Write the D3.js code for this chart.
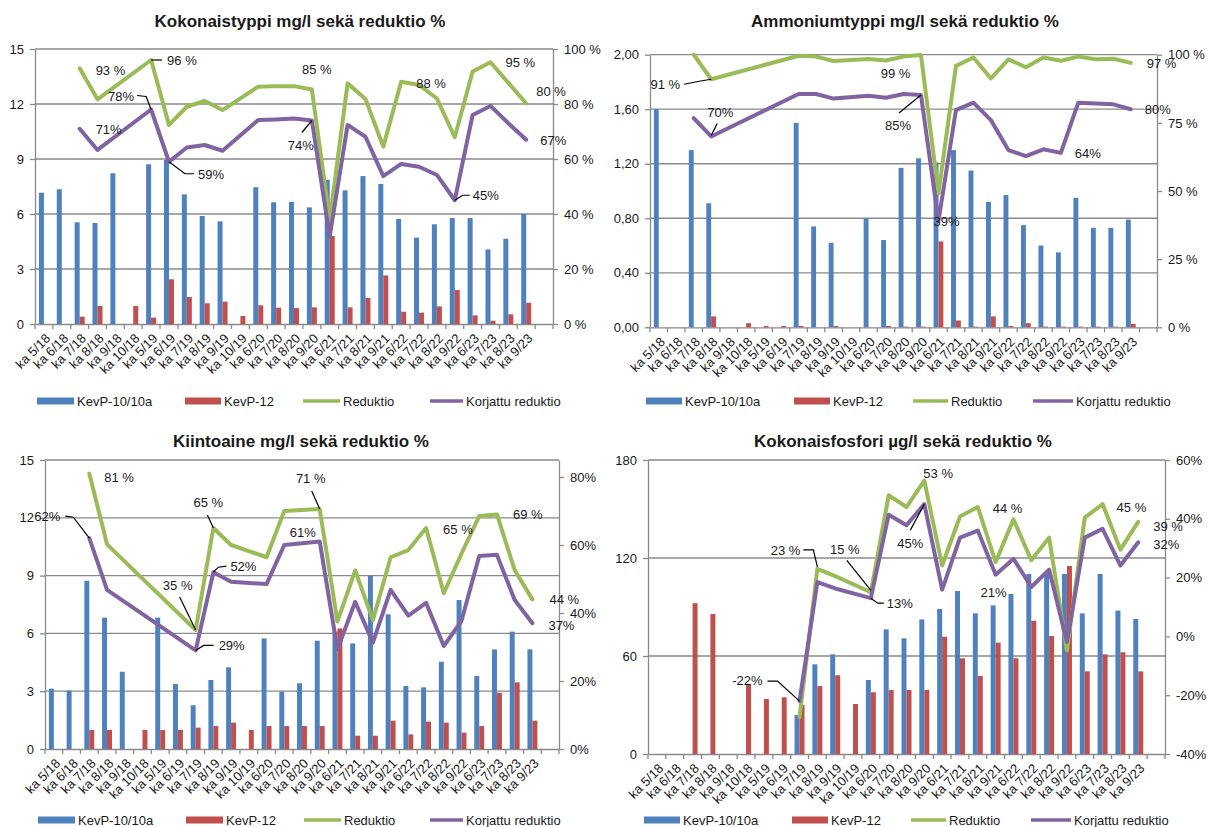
<!DOCTYPE html>
<html>
<head>
<meta charset="utf-8">
<script src="https://cdn.jsdelivr.net/npm/d3@7"></script>
<style>
  body { margin: 0; background: #fff; }
  text { font-family: "Liberation Sans", Arial, sans-serif; fill: #1a1a1a; }
</style>
</head>
<body>
<svg id="chart" width="1208" height="827"></svg>
<script>
// Sampling periods (monthly averages); the trailing blank slot leaves an empty band at the right end.
const categories = ["ka 5/18", "ka 6/18", "ka 7/18", "ka 8/18", "ka 9/18", "ka 10/18",
  "ka 5/19", "ka 6/19", "ka 7/19", "ka 8/19", "ka 9/19", "ka 10/19",
  "ka 6/20", "ka 7/20", "ka 8/20", "ka 9/20",
  "ka 6/21", "ka 7/21", "ka 8/21", "ka 9/21",
  "ka 6/22", "ka 7/22", "ka 8/22", "ka 9/22",
  "ka 6/23", "ka 7/23", "ka 8/23", "ka 9/23", ""];

const seriesNames = ["KevP-10/10a", "KevP-12", "Reduktio", "Korjattu reduktio"];

// Kokonaistyppi (total nitrogen), mg/l and reduction %
const totN_kevp10 = [7.16, 7.35, 5.55, 5.51, 8.22, null, 8.71, 8.95, 7.07, 5.89, 5.60, null, 7.46, 6.64, 6.66, 6.36, 7.86, 7.29, 8.07, 7.64, 5.73, 4.71, 5.44, 5.78, 5.78, 4.07, 4.65, 6.00];
const totN_kevp12 = [null, null, 0.40, 0.98, null, 0.98, 0.35, 2.44, 1.47, 1.13, 1.22, 0.44, 1.02, 0.89, 0.87, 0.91, 4.80, 0.91, 1.42, 2.65, 0.67, 0.62, 0.96, 1.85, 0.47, 0.18, 0.53, 1.16];
const totN_reduction = [null, null, 93, 81.7, null, null, 96, 72.4, 79.0, 81.1, 77.8, null, 86.3, 86.5, 86.5, 85.3, 37.8, 87.5, 81.8, 64.5, 88.1, 86.9, 82.0, 67.9, 91.8, 95.2, 87.7, 80.2];
const totN_corrected = [null, null, 71, 63.3, null, null, 78, 59, 64.2, 65.1, 63.0, null, 74.2, 74.4, 74.7, 74, 31.8, 72.4, 68.1, 53.8, 58.2, 57.2, 54.2, 45, 76.0, 79.3, 73.0, 67];

// Ammoniumtyppi (ammonium nitrogen), mg/l and reduction %
const nh4_kevp10 = [1.60, null, 1.30, 0.91, null, null, null, null, 1.50, 0.74, 0.62, null, 0.80, 0.64, 1.17, 1.24, 1.21, 1.30, 1.15, 0.92, 0.97, 0.75, 0.60, 0.55, 0.95, 0.73, 0.73, 0.79];
const nh4_kevp12 = [null, null, null, 0.08, null, 0.03, 0.01, 0.01, 0.01, null, 0.01, null, null, 0.01, 0.005, 0.005, 0.63, 0.05, 0.005, 0.08, 0.01, 0.03, 0.005, 0.005, 0.005, 0.005, 0.005, 0.025];
const nh4_reduction = [null, null, 100, 91, null, null, null, null, 99.6, 99.3, 97.7, null, 98.4, 97.9, 99.3, 99.9, 49.2, 95.9, 99.0, 91.3, 98.3, 95.4, 99.0, 97.8, 99.3, 98.3, 98.5, 97];
const nh4_corrected = [null, null, 76.7, 70, null, null, null, null, 85.6, 85.6, 83.9, null, 84.9, 84.2, 85.6, 85.2, 39, 79.7, 82.4, 76.0, 65.0, 62.8, 65.3, 64, 82.4, 82.1, 81.8, 80];

// Kiintoaine (suspended solids), mg/l and reduction %
const tss_kevp10 = [3.13, 3.03, 8.73, 6.82, 4.01, null, 6.82, 3.37, 2.27, 3.58, 4.24, null, 5.74, 2.97, 3.41, 5.62, 6.10, 5.48, 8.98, 6.99, 3.27, 3.20, 4.53, 7.73, 3.79, 5.17, 6.09, 5.17];
const tss_kevp12 = [null, null, 0.99, 0.99, null, 0.99, 0.99, 0.99, 1.11, 1.19, 1.37, 0.99, 1.19, 1.19, 1.19, 1.19, 6.26, 0.69, 0.69, 1.47, 0.76, 1.42, 1.37, 0.85, 1.19, 2.92, 3.46, 1.47];
const tss_reduction = [null, null, 81, 60.2, null, null, null, null, 35, 65, 60.0, null, 56.4, 70.0, 70.3, 70.6, 37.5, 52.5, 37.9, 56.4, 58.5, 65, 45.8, 57.5, 68.5, 69, 52.6, 44];
const tss_corrected = [null, null, 62, 46.8, null, null, null, null, 29, 52, 49.2, null, 48.5, 60.0, 60.5, 61, 29.3, 43.3, 31.3, 46.8, 39.2, 43.0, 30.3, 37.7, 56.8, 57.1, 43.8, 37];

// Kokonaisfosfori (total phosphorus), µg/l and reduction %
const totP_kevp10 = [null, null, null, null, null, null, null, null, 23.9, 54.9, 61.0, null, 45.3, 76.3, 70.8, 82.4, 88.8, 99.8, 86.1, 91.0, 98.0, 110.2, 110.2, 110.2, 86.1, 110.2, 87.8, 82.7];
const totP_kevp12 = [null, null, 92.3, 85.7, null, 42.7, 33.7, 34.7, 30.0, 41.6, 48.2, 30.6, 37.8, 39.2, 39.2, 39.2, 71.8, 58.6, 47.8, 68.2, 58.6, 81.6, 72.3, 115.1, 50.6, 61.0, 62.3, 50.6];
const totP_reduction = [null, null, null, null, null, null, null, null, -27.5, 23, 20.5, null, 15, 48.0, 44.0, 53, 24.1, 40.8, 44, 25.3, 39.8, 25.9, 33.6, -4.8, 40.4, 45, 29.5, 39];
const totP_corrected = [null, null, null, null, null, null, null, null, -22, 18.5, 16.3, null, 13, 41.4, 37.8, 45, 15.9, 33.6, 36.0, 21, 26.4, 16.8, 22.7, -1.9, 33.6, 36.6, 24.1, 32];

// Axis ticks
const totN_ticks = [0, 3, 6, 9, 12, 15];
const totN_pctTicks = [0, 20, 40, 60, 80, 100];
const nh4_ticks = [0, 0.4, 0.8, 1.2, 1.6, 2.0];
const nh4_pctTicks = [0, 25, 50, 75, 100];
const tss_ticks = [0, 3, 6, 9, 12, 15];
const tss_pctTicks = [0, 20, 40, 60, 80];
const totP_ticks = [0, 60, 120, 180];
const totP_pctTicks = [-40, -20, 0, 20, 40, 60];

const COLORS = { blue: "#4F81BD", red: "#C0504D", green: "#9BBB59", purple: "#8064A2", grid: "#8a8a8a" };

const pctSpaced = d => d + " %";
const pctTight = d => d + "%";
const commaDec = d => d.toFixed(2).replace(".", ",");

// Panel layout and label placement (offsets in px from the labelled point)
const panels = [
  {
    title: "Kokonaistyppi mg/l sekä reduktio %", titleX: 300, titleY: 27,
    left: 35, right: 553, top: 49, bottom: 324,
    yDomain: [0, 15], yTicks: totN_ticks, yFmt: d => d,
    y2Domain: [0, 100], y2Ticks: totN_pctTicks, y2Fmt: pctSpaced,
    bars: [totN_kevp10, totN_kevp12], red: totN_reduction, corr: totN_corrected,
    legendY: 401, legend: [[37, 77], [185, 224], [303, 343], [430, 466]],
    labels: [
      { s: "g", i: 2, dx: 16, dy: 7, a: "start" },
      { s: "g", i: 6, dx: 16, dy: 5, a: "start", L: [[0, 0], [11, 0]] },
      { s: "p", i: 6, dx: -17, dy: -9, a: "end", L: [[0, 0], [-5, -13], [-14, -14]] },
      { s: "p", i: 2, dx: 16, dy: 5, a: "start" },
      { s: "p", i: 7, dx: 29, dy: 17, a: "start", L: [[0, 0], [16, 12], [25, 12]] },
      { s: "p", i: 15, dx: -11, dy: 29, a: "middle", L: [[0, 0], [-10, 12]] },
      { s: "g", i: 15, dx: 5, dy: -15, a: "middle" },
      { s: "g", i: 20, dx: 15, dy: 6, a: "start" },
      { s: "p", i: 23, dx: 18, dy: 0, a: "start", L: [[0, 0], [8, -5], [15, -5]] },
      { s: "g", i: 25, dx: 15, dy: 5, a: "start" },
      { s: "g", i: 27, dx: 10, dy: -7, a: "start" },
      { s: "p", i: 27, dx: 14, dy: 5, a: "start" }
    ]
  },
  {
    title: "Ammoniumtyppi mg/l sekä reduktio %", titleX: 905, titleY: 27,
    left: 650, right: 1157, top: 54.7, bottom: 327.3,
    yDomain: [0, 2], yTicks: nh4_ticks, yFmt: commaDec,
    y2Domain: [0, 100], y2Ticks: nh4_pctTicks, y2Fmt: pctSpaced,
    bars: [nh4_kevp10, nh4_kevp12], red: nh4_reduction, corr: nh4_corrected,
    legendY: 401, legend: [[646, 685], [794, 833], [913, 951], [1033, 1076]],
    labels: [
      { s: "g", i: 3, dx: -31, dy: 10, a: "end", L: [[0, 0], [-12, 2], [-27, 5]] },
      { s: "p", i: 3, dx: -4, dy: -19, a: "start", L: [[0, -1], [6, -13]] },
      { s: "g", i: 14, dx: -8, dy: 21, a: "middle" },
      { s: "p", i: 15, dx: -23, dy: 35, a: "middle", L: [[0, 0], [-22, 18]] },
      { s: "p", i: 16, dx: -5, dy: 5, a: "start" },
      { s: "p", i: 23, dx: 14, dy: 5, a: "start" },
      { s: "g", i: 27, dx: 16, dy: 5, a: "start" },
      { s: "p", i: 27, dx: 14, dy: 5, a: "start" }
    ]
  },
  {
    title: "Kiintoaine mg/l sekä reduktio %", titleX: 301, titleY: 447,
    left: 45, right: 559, top: 460, bottom: 749,
    yDomain: [0, 15], yTicks: tss_ticks, yFmt: d => d,
    y2Domain: [0, 85], y2Ticks: tss_pctTicks, y2Fmt: pctTight,
    bars: [tss_kevp10, tss_kevp12], red: tss_reduction, corr: tss_corrected,
    legendY: 820, legend: [[38, 78], [186, 226], [304, 344], [430, 466]],
    labels: [
      { s: "g", i: 2, dx: 15, dy: 8, a: "start" },
      { s: "p", i: 2, dx: -29, dy: -17, a: "end", L: [[0, 0], [-16, -21], [-24, -22]] },
      { s: "g", i: 9, dx: -5, dy: -21, a: "middle", L: [[0, 0], [-6, -13]] },
      { s: "g", i: 8, dx: -18, dy: -40, a: "middle", L: [[0, 0], [-16, -33]] },
      { s: "p", i: 9, dx: 17, dy: -1, a: "start", L: [[0, 0], [5, -5], [13, -6]] },
      { s: "p", i: 8, dx: 23, dy: 0, a: "start", L: [[0, 0], [8, -5], [18, -5]] },
      { s: "g", i: 15, dx: -9, dy: -26, a: "middle", L: [[0, 0], [-8, -18]] },
      { s: "p", i: 15, dx: -17, dy: -5, a: "middle" },
      { s: "g", i: 21, dx: 17, dy: 6, a: "start" },
      { s: "g", i: 25, dx: 16, dy: 5, a: "start" },
      { s: "g", i: 27, dx: 17, dy: 5, a: "start" },
      { s: "p", i: 27, dx: 16, dy: 7, a: "start" }
    ]
  },
  {
    title: "Kokonaisfosfori µg/l sekä reduktio %", titleX: 903, titleY: 447,
    left: 648, right: 1165, top: 460, bottom: 754,
    yDomain: [0, 180], yTicks: totP_ticks, yFmt: d => d,
    y2Domain: [-40, 60], y2Ticks: totP_pctTicks, y2Fmt: pctTight,
    bars: [totP_kevp10, totP_kevp12], red: totP_reduction, corr: totP_corrected,
    legendY: 820, legend: [[644, 683], [792, 831], [911, 949], [1031, 1074]],
    labels: [
      { s: "p", i: 8, dx: -37, dy: -16, a: "end", L: [[0, 0], [-22, -20], [-32, -20]] },
      { s: "g", i: 9, dx: -17, dy: -14, a: "end", L: [[0, -2], [-4, -19], [-14, -19]] },
      { s: "g", i: 12, dx: -26, dy: -38, a: "middle", L: [[0, -2], [-24, -32]] },
      { s: "p", i: 12, dx: 16, dy: 10, a: "start", L: [[0, 0], [7, 5], [13, 5]] },
      { s: "g", i: 15, dx: -1, dy: -3, a: "start" },
      { s: "p", i: 15, dx: -14, dy: 44, a: "middle", L: [[0, 0], [-14, 26]] },
      { s: "g", i: 18, dx: 15, dy: 6, a: "start" },
      { s: "p", i: 19, dx: -2, dy: 22, a: "middle" },
      { s: "g", i: 25, dx: 14, dy: 8, a: "start" },
      { s: "g", i: 27, dx: 15, dy: 9, a: "start" },
      { s: "p", i: 27, dx: 15, dy: 7, a: "start" }
    ]
  }
];

const svg = d3.select("#chart");

function drawPanel(p) {
  const g = svg.append("g");

  const x = d3.scaleBand().domain(categories).range([p.left, p.right])
    .paddingInner(0.44).paddingOuter(0.22);
  const xs = d3.scaleBand().domain([0, 1]).range([0, x.bandwidth()]);
  const y = d3.scaleLinear().domain(p.yDomain).range([p.bottom, p.top]);
  const y2 = d3.scaleLinear().domain(p.y2Domain).range([p.bottom, p.top]);
  const cx = i => x(categories[i]) + x.bandwidth() / 2;

  // Title
  g.append("text").attr("x", p.titleX).attr("y", p.titleY)
    .attr("text-anchor", "middle").attr("font-size", 17).attr("font-weight", "bold")
    .text(p.title);

  // Horizontal gridlines
  g.append("g").selectAll("line").data(p.yTicks.filter(t => t !== p.yDomain[0])).join("line")
    .attr("x1", p.left).attr("x2", p.right)
    .attr("y1", d => y(d)).attr("y2", d => y(d))
    .attr("stroke", COLORS.grid).attr("stroke-width", 1.3);

  // Left axis
  const la = g.append("g").attr("transform", `translate(${p.left},0)`)
    .call(d3.axisLeft(y).tickValues(p.yTicks).tickFormat(p.yFmt).tickSize(5).tickSizeOuter(0).tickPadding(6));
  // Right axis
  const ra = g.append("g").attr("transform", `translate(${p.right},0)`)
    .call(d3.axisRight(y2).tickValues(p.y2Ticks).tickFormat(p.y2Fmt).tickSize(5).tickSizeOuter(0).tickPadding(6));
  // Bottom axis: category labels
  const ba = g.append("g").attr("transform", `translate(0,${p.bottom})`)
    .call(d3.axisBottom(x).tickSize(0).tickSizeOuter(0));
  ba.selectAll(".tick text")
    .attr("x", 0).attr("y", 0).attr("dy", "0.35em")
    .attr("text-anchor", "end")
    .attr("transform", "translate(4,12) rotate(-45)");
  // Category boundary tick marks
  const bounds = d3.range(categories.length + 1).map(k => p.left + k * x.step());
  ba.append("g").selectAll("line").data(bounds).join("line")
    .attr("x1", d => d).attr("x2", d => d).attr("y1", 0).attr("y2", 5)
    .attr("stroke", COLORS.grid).attr("stroke-width", 1.3);

  [la, ra, ba].forEach(a => {
    a.selectAll(".domain").attr("stroke", COLORS.grid).attr("stroke-width", 1.3);
    a.selectAll(".tick line").attr("stroke", COLORS.grid).attr("stroke-width", 1.3);
    a.selectAll("text").attr("font-size", 13).attr("fill", "#1a1a1a")
      .attr("font-family", "'Liberation Sans', Arial, sans-serif");
  });

  // Bars
  const barColors = [COLORS.blue, COLORS.red];
  p.bars.forEach((vals, k) => {
    const pts = vals.map((v, i) => ({ v, i })).filter(d => d.v != null);
    g.append("g").selectAll("rect").data(pts).join("rect")
      .attr("x", d => x(categories[d.i]) + xs(k))
      .attr("width", xs.bandwidth())
      .attr("y", d => y(d.v))
      .attr("height", d => y(p.yDomain[0]) - y(d.v))
      .attr("fill", barColors[k]);
  });

  // Reduction lines (gaps are bridged)
  const line = d3.line().x(d => cx(d.i)).y(d => y2(d.v));
  [[p.red, COLORS.green], [p.corr, COLORS.purple]].forEach(([vals, col]) => {
    const pts = vals.map((v, i) => ({ v, i })).filter(d => d.v != null);
    g.append("path").datum(pts).attr("d", line)
      .attr("fill", "none").attr("stroke", col).attr("stroke-width", 4)
      .attr("stroke-linejoin", "round").attr("stroke-linecap", "round");
  });

  // Data labels with optional leader lines
  const lg = g.append("g");
  p.labels.forEach(lb => {
    const vals = lb.s === "g" ? p.red : p.corr;
    const v = vals[lb.i];
    const px = cx(lb.i), py = y2(v);
    if (lb.L) {
      lg.append("path")
        .attr("d", d3.line()(lb.L.map(([a, b]) => [px + a, py + b])))
        .attr("fill", "none").attr("stroke", "#000").attr("stroke-width", 1.2);
    }
    lg.append("text").attr("x", px + lb.dx).attr("y", py + lb.dy)
      .attr("text-anchor", lb.a).attr("font-size", 13)
      .text(Math.round(v) + (lb.s === "g" ? " %" : "%"));
  });

  // Legend
  const leg = g.append("g");
  const legColors = [COLORS.blue, COLORS.red, COLORS.green, COLORS.purple];
  p.legend.forEach(([sx, tx], k) => {
    const w = tx - sx - 3;
    if (k < 2) {
      leg.append("rect").attr("x", sx).attr("y", p.legendY - 3.5).attr("width", w).attr("height", 7)
        .attr("fill", legColors[k]);
    } else {
      leg.append("line").attr("x1", sx).attr("x2", sx + w).attr("y1", p.legendY).attr("y2", p.legendY)
        .attr("stroke", legColors[k]).attr("stroke-width", 3.5);
    }
    leg.append("text").attr("x", tx).attr("y", p.legendY + 4.5).attr("font-size", 13)
      .text(seriesNames[k]);
  });
}

panels.forEach(drawPanel);
</script>
</body>
</html>
